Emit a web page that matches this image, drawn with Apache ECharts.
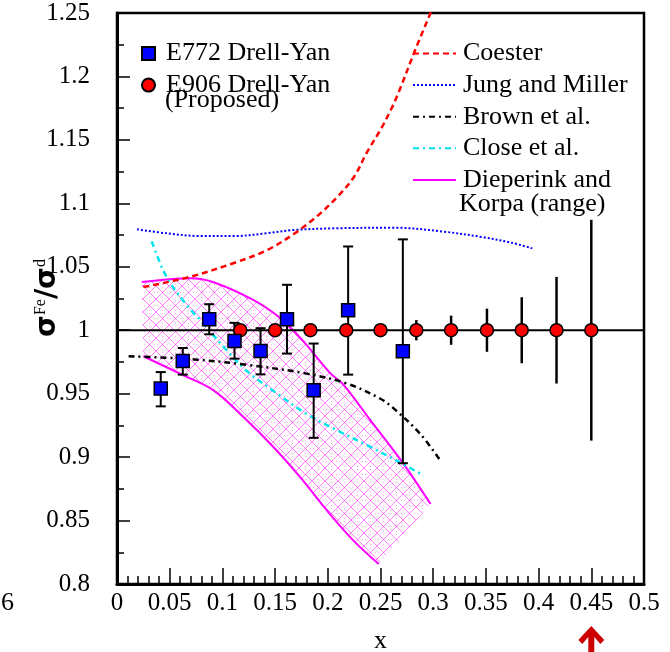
<!DOCTYPE html>
<html><head><meta charset="utf-8">
<script src="https://cdn.jsdelivr.net/npm/echarts@6/dist/echarts.min.js"></script>
<style>html,body{margin:0;padding:0;background:#fff}#c{width:670px;height:652px}</style>
</head><body><div id="c"></div>
<script>
// ---- data ----
const e772X  = [0.0415, 0.0624, 0.0875, 0.1115, 0.1362, 0.1613, 0.1866, 0.2193, 0.2712];
const e772Y  = [0.954, 0.9758, 1.0087, 0.9916, 0.9837, 1.0087, 0.9526, 1.0158, 0.9834];
const e772Hi = [0.967, 0.986, 1.0205, 1.0058, 1.0016, 1.0358, 0.9895, 1.066, 1.0716];
const e772Lo = [0.940, 0.965, 0.9968, 0.9776, 0.9652, 0.9816, 0.9152, 0.965, 0.8952];

const e906X   = [0.117, 0.150, 0.1835, 0.2175, 0.250, 0.284, 0.317, 0.351, 0.384, 0.417, 0.450];
const e906Y   = [1, 1, 1, 1, 1, 1, 1, 1, 1, 1, 1];
const e906Err = [0.002, 0.002, 0.002, 0.002, 0.003, 0.008, 0.0115, 0.017, 0.026, 0.042, 0.087];

const coesterX = [0.025, 0.069, 0.111, 0.142, 0.168, 0.190, 0.209, 0.225, 0.237, 0.250, 0.260, 0.267, 0.283, 0.300];
const coesterY = [1.034, 1.042, 1.053, 1.063, 1.076, 1.090, 1.105, 1.121, 1.140, 1.158, 1.174, 1.187, 1.221, 1.255];

const jungX = [0.019, 0.047, 0.079, 0.111, 0.142, 0.168, 0.206, 0.263, 0.310, 0.348, 0.374, 0.394];
const jungY = [1.0795, 1.0764, 1.0742, 1.0742, 1.0764, 1.079, 1.0803, 1.0808, 1.0777, 1.0732, 1.069, 1.0645];

const brownX = [0.011, 0.073, 0.126, 0.180, 0.218, 0.250, 0.263, 0.288, 0.307];
const brownY = [0.9795, 0.977, 0.9724, 0.9658, 0.958, 0.946, 0.938, 0.918, 0.897];

const closeX = [0.033, 0.047, 0.066, 0.079, 0.101, 0.123, 0.152, 0.180, 0.209, 0.2405, 0.268, 0.291];
const closeY = [1.070, 1.042, 1.020, 1.008, 0.987, 0.968, 0.950, 0.934, 0.921, 0.908, 0.896, 0.8855];

const dkUpperX = [0.0235, 0.070, 0.091, 0.1296, 0.155, 0.174, 0.2025, 0.215, 0.2405, 0.2707, 0.2975];
const dkUpperY = [1.038, 1.041, 1.038, 1.0237, 1.0095, 0.994, 0.966, 0.957, 0.929, 0.896, 0.863];
const dkLowerX = [0.025, 0.063, 0.0916, 0.120, 0.1486, 0.174, 0.1993, 0.2246, 0.2484];
const dkLowerY = [0.9795, 0.9645, 0.9526, 0.9316, 0.9078, 0.884, 0.8578, 0.834, 0.8157];

const unityX = [0, 0.5];
const unityY = [1, 1];

const xTickInterval = 0.05;
const yTickInterval = 0.05;
const arrowX = [0.45];

const names = {
  e772: 'E772 Drell-Yan', e906: 'E906 Drell-Yan',
  coester: 'Coester', jung: 'Jung and Miller', brown: 'Brown et al.',
  close: 'Close et al.', dk: 'Dieperink and'
};

// ---- helpers ----
const zip = (xs, ys) => xs.map((x, i) => [x, ys[i]]);
const SERIF = "'Liberation Serif', serif";

const pat = document.createElement('canvas');
pat.width = 13; pat.height = 13;
(function(){
  const g = pat.getContext('2d');
  g.strokeStyle = 'rgba(255,0,255,0.5)';
  g.lineWidth = 1;
  g.beginPath(); g.moveTo(0,0); g.lineTo(13,13); g.stroke();
  g.beginPath(); g.moveTo(13,0); g.lineTo(0,13); g.stroke();
  g.fillStyle = 'rgba(255,0,255,0.35)';
  g.fillRect(6,1,1,1); g.fillRect(1,6,1,1); g.fillRect(11,6,1,1); g.fillRect(6,11,1,1);
})();

function errRender(cap, width) {
  return function (params, api) {
    const x = api.value(0), lo = api.value(1), hi = api.value(2);
    const p1 = api.coord([x, hi]), p2 = api.coord([x, lo]);
    const st = { stroke: '#000', lineWidth: width };
    const ch = [{ type: 'line', shape: { x1: p1[0], y1: p1[1], x2: p2[0], y2: p2[1] }, style: st }];
    if (cap) {
      ch.push({ type: 'line', shape: { x1: p1[0]-cap, y1: p1[1], x2: p1[0]+cap, y2: p1[1] }, style: st });
      ch.push({ type: 'line', shape: { x1: p2[0]-cap, y1: p2[1], x2: p2[0]+cap, y2: p2[1] }, style: st });
    }
    return { type: 'group', children: ch };
  };
}

function lineSeries(name, xs, ys, color, type, width, z) {
  return {
    type: 'line', name, data: zip(xs, ys), symbol: 'none', smooth: 0.35,
    lineStyle: { color, type, width }, itemStyle: { color }, z, clip: true, silent: true
  };
}

const chart = echarts.init(document.getElementById('c'), null, { renderer: 'canvas' });

const option = {
  animation: false,
  backgroundColor: '#fff',
  textStyle: { fontFamily: SERIF },
  grid: {
    left: 117, right: 26, top: 13, bottom: 68, containLabel: false, outerBoundsMode: 'none',
    show: true, borderColor: '#000', borderWidth: 2.5, backgroundColor: 'transparent'
  },
  xAxis: {
    type: 'value', min: 0, max: 0.5, interval: xTickInterval,
    name: 'x', nameLocation: 'middle', nameGap: 44,
    nameTextStyle: { fontFamily: SERIF, fontSize: 26, color: '#000' },
    axisLine: { lineStyle: { color: '#000', width: 3 } },
    axisTick: { inside: true, length: 16, lineStyle: { color: '#000', width: 1.5 } },
    minorTick: { show: true, splitNumber: 5, length: 8, lineStyle: { color: '#000', width: 1.5 } },
    axisLabel: { fontFamily: SERIF, fontSize: 25, color: '#000', margin: 7 },
    splitLine: { show: false }
  },
  yAxis: {
    type: 'value', min: 0.8, max: 1.25, interval: yTickInterval,
    axisLine: { lineStyle: { color: '#000', width: 3 } },
    axisTick: { inside: true, length: 13, lineStyle: { color: '#000', width: 1.5 } },
    minorTick: { show: true, splitNumber: 2, length: 7, lineStyle: { color: '#000', width: 1.5 } },
    axisLabel: { fontFamily: SERIF, fontSize: 25, color: '#000', margin: 27 },
    splitLine: { show: false }
  },
  legend: [
    {
      data: [names.e772, names.e906], orient: 'vertical', left: 141, top: 40.5, padding: 0,
      itemWidth: 13, itemHeight: 13, itemGap: 5.6, selectedMode: false,
      textStyle: { fontFamily: SERIF, fontSize: 26, color: '#000', padding: [0, 0, 0, 6] }
    },
    {
      data: [names.coester, names.jung, names.brown, names.close, names.dk], orient: 'vertical',
      left: 412, top: 40.5, padding: 0, itemWidth: 43, itemHeight: 14, itemGap: 5.6, selectedMode: false,
      itemStyle: { opacity: 0 },
      textStyle: { fontFamily: SERIF, fontSize: 26, color: '#000', padding: [0, 0, 0, 2] }
    }
  ],
  series: [
    {
      type: 'custom', name: 'band', silent: true, z: 1,
      data: [[dkUpperX[0], dkUpperY[0]]],
      renderItem: function (params, api) {
        const up = dkUpperX.map((x, i) => api.coord([x, dkUpperY[i]]));
        const lo = dkLowerX.map((x, i) => api.coord([x, dkLowerY[i]])).reverse();
        return { type: 'polygon', shape: { points: up.concat(lo) }, style: { fill: { image: pat, repeat: 'repeat' }, stroke: null } };
      }
    },
    lineSeries(names.dk, dkUpperX, dkUpperY, '#ff00ff', 'solid', 2, 2),
    lineSeries(names.dk, dkLowerX, dkLowerY, '#ff00ff', 'solid', 2, 2),
    lineSeries(names.close, closeX, closeY, '#00e5ee', [6, 4, 2, 4], 2.5, 3),
    lineSeries(names.brown, brownX, brownY, '#000', [6, 4, 2, 4], 2.5, 3),
    lineSeries(names.jung, jungX, jungY, '#0000ff', [2, 2], 2, 3),
    lineSeries(names.coester, coesterX, coesterY, '#ff0000', [6, 4], 2.5, 3),
    {
      type: 'line', name: 'unity', data: zip(unityX, unityY), symbol: 'none', silent: true,
      lineStyle: { color: '#000', width: 2 }, z: 4
    },
    {
      type: 'custom', name: 'e772err', silent: true, z: 5,
      data: e772X.map((x, i) => [x, e772Lo[i], e772Hi[i]]),
      encode: { x: 0, y: [1, 2] },
      renderItem: errRender(5, 2)
    },
    {
      type: 'custom', name: 'e906err', silent: true, z: 5,
      data: e906X.map((x, i) => [x, e906Y[i] - e906Err[i], e906Y[i] + e906Err[i]]),
      encode: { x: 0, y: [1, 2] },
      renderItem: errRender(0, 2.5)
    },
    {
      type: 'scatter', name: names.e906, data: zip(e906X, e906Y), symbol: 'circle', symbolSize: 13,
      itemStyle: { color: '#ff0000', borderColor: '#000', borderWidth: 1.5, opacity: 1 }, z: 6, silent: true
    },
    {
      type: 'scatter', name: names.e772, data: zip(e772X, e772Y), symbol: 'rect', symbolSize: 13,
      itemStyle: { color: '#0000ff', borderColor: '#000', borderWidth: 1.5, opacity: 1 }, z: 7, silent: true
    }
  ]
};
chart.setOption(option);

const ax = chart.convertToPixel({ xAxisIndex: 0 }, arrowX[0]);
const yBottom = chart.convertToPixel({ yAxisIndex: 0 }, 0.8);
const tipY = yBottom + 42;
chart.setOption({
  graphic: [
    {
      type: 'text', rotation: Math.PI / 2, x: 48, y: 298,
      style: {
        text: '{s|σ}{u|Fe}{s|/σ}{u|d}', align: 'center', verticalAlign: 'middle',
        rich: {
          s: { fontFamily: 'DejaVu Sans', fontSize: 28, fill: '#000', fontWeight: 'bold' },
          u: { fontFamily: SERIF, fontSize: 16, fill: '#000', verticalAlign: 'top', padding: [0, 0, 14, 0] }
        }
      }
    },
    {
      type: 'text', x: 165, y: 100,
      style: { text: '(Proposed)', fontFamily: SERIF, fontSize: 26, fill: '#000', verticalAlign: 'middle' }
    },
    {
      type: 'text', x: 459, y: 204,
      style: { text: 'Korpa (range)', fontFamily: SERIF, fontSize: 26, fill: '#000', verticalAlign: 'middle' }
    },
    {
      type: 'text', x: 1, y: 603,
      style: { text: '6', fontFamily: SERIF, fontSize: 26, fill: '#000', verticalAlign: 'middle' }
    },
    {
      type: 'polygon',
      shape: {
        points: [
          [ax, tipY], [ax + 13, tipY + 14], [ax + 9, tipY + 18], [ax + 3, tipY + 11],
          [ax + 3, 652], [ax - 3, 652], [ax - 3, tipY + 11], [ax - 9, tipY + 18], [ax - 13, tipY + 14]
        ]
      },
      style: { fill: '#cc0000' }
    }
  ]
});
</script>
</body></html>
